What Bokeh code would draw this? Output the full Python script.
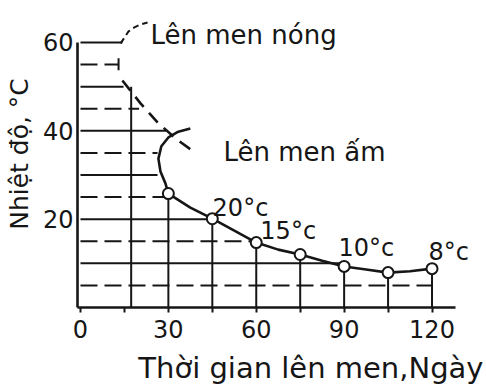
from bokeh.plotting import figure
from bokeh.models import FixedTicker, Range1d, Title
from bokeh.embed import file_html
from bokeh.resources import INLINE
from bokeh.core.properties import value

FONT = "DejaVu Sans"
INK = "#161616"

# Measured points of the warm fermentation (days, °C)
days = [30, 45, 60, 75, 90, 105, 120]
temps = [25.8, 20.1, 14.7, 12.0, 9.3, 7.9, 8.8]

# Warm fermentation curve: the hook coming down from ~40 °C, then through the points
warm_x = [37.5, 33.4, 30.0, 27.6, 26.6, 27.3, 29.0, 30, 37.5, 45, 52.5, 60, 67.5,
          75, 82.5, 90, 97.5, 105, 112.5, 120]
warm_y = [40.5, 39.8, 38.5, 36.5, 33.7, 30.8, 28.1, 25.8, 22.6, 20.1, 17.4, 14.7, 13.1,
          12.0, 10.6, 9.3, 8.6, 7.9, 8.2, 8.8]

# Hot fermentation: dashed decline from 50 °C
hot_x = [14.3, 20.5, 26.3, 32.4, 38.2]
hot_y = [51.4, 46.2, 41.9, 38.3, 35.5]

# Leader from the 60 °C level up to the "Lên men nóng" caption
lead_x = [13.7, 15.0, 16.4, 18.4, 20.5, 22.9]
lead_y = [59.8, 61.1, 62.5, 63.4, 64.1, 64.5]

# Horizontal temperature levels and how far (in days) each one runs
levels = [60, 55, 50, 45, 40, 35, 30, 25, 20, 15, 10, 5]
level_ends = [14.3, 13.0, 14.7, 20.0, 29.7, 26.3, 26.3, 30, 45, 60, 90, 120]

# Boundary of the hot fermentation period
hot_end_day = 17.3
hot_end_top = 50
bracket_day = 13.0
bracket_lo, bracket_hi = 53.7, 56.4

x_ticks = [0, 30, 60, 90, 120]
x_minor = [15, 45, 75, 105]
y_ticks = [20, 40, 60]

temp_labels = ["20°c", "15°c", "10°c", "8°c"]
temp_label_x = [45.1, 61.4, 88.1, 118.8]
temp_label_y = [22.6, 17.4, 13.4, 12.5]

p = figure(width=486, height=392, output_backend="svg", toolbar_location=None,
           min_border_left=77, min_border_right=0, min_border_top=0, min_border_bottom=85,
           x_range=Range1d(-1.02, 138.6), y_range=Range1d(0, 69.5))
p.grid.visible = False
p.outline_line_color = None
p.background_fill_color = "white"
p.border_fill_color = "white"

# Axes
for ax in (p.xaxis, p.yaxis):
    ax.axis_line_width = 2.6
    ax.axis_line_color = INK
    ax.major_tick_line_color = INK
    ax.minor_tick_line_color = INK
    ax.major_tick_line_width = 2
    ax.minor_tick_line_width = 2
    ax.major_label_text_font = FONT
    ax.major_label_text_font_size = "24px"
    ax.major_label_text_color = INK
    ax.axis_label_text_font = FONT
    ax.axis_label_text_font_style = "normal"
    ax.axis_label_text_color = INK

p.xaxis.ticker = FixedTicker(ticks=x_ticks, minor_ticks=x_minor)
p.xaxis.major_tick_in = 0
p.xaxis.major_tick_out = 5
p.xaxis.minor_tick_in = 0
p.xaxis.minor_tick_out = 5
p.xaxis.major_label_standoff = 7
p.xaxis.bounds = (-1.02, 128)

p.yaxis.ticker = FixedTicker(ticks=y_ticks, minor_ticks=[])
p.yaxis.major_tick_in = 0
p.yaxis.major_tick_out = 0
p.yaxis.major_label_standoff = 4
p.yaxis.bounds = (0, 60)
p.yaxis.axis_label = "Nhiệt độ, °C"
p.yaxis.axis_label_text_font_size = "25px"
p.yaxis.axis_label_standoff = 6

# Temperature levels: solid every 10 °C, dashed in between
for lv, end in zip(levels, level_ends):
    dash = "solid" if lv % 10 == 0 else "17 7"
    p.line([0, end], [lv, lv], line_color=INK, line_width=2, line_dash=dash)

# Vertical drops from each point, and the end of the hot period
p.segment(x0=days, y0=[0] * len(days), x1=days, y1=temps, line_color=INK, line_width=2)
p.segment(x0=[hot_end_day], y0=[0], x1=[hot_end_day], y1=[hot_end_top],
          line_color=INK, line_width=2)
p.segment(x0=[bracket_day], y0=[bracket_lo], x1=[bracket_day], y1=[bracket_hi],
          line_color=INK, line_width=2)

# Curves
p.line(hot_x, hot_y, line_color=INK, line_width=2.6, line_dash="13 8")
p.line(lead_x, lead_y, line_color=INK, line_width=2, line_dash="6 4")
p.line(warm_x, warm_y, line_color=INK, line_width=2.6)
p.scatter(days, temps, size=11, fill_color="white", line_color=INK, line_width=2)

# Captions
p.text(x=[23.9], y=[61.6], text=["Lên men nóng"], text_font=value(FONT),
       text_font_size="26px", text_color=INK, text_baseline="alphabetic")
p.text(x=[48.8], y=[35.1], text=["Lên men ấm"], text_font=value(FONT),
       text_font_size="26px", text_color=INK, text_baseline="alphabetic")
p.text(x=temp_label_x, y=temp_label_y, text=temp_labels, text_font=value(FONT),
       text_font_size="24px", text_color=INK, text_baseline="alphabetic")

# Time axis caption, set flush right under the axis
p.add_layout(Title(text="Thời gian lên men,Ngày", align="right", text_font=FONT,
                   text_font_size="29px", text_font_style="normal", text_color=INK,
                   standoff=16, offset=3), "below")

open("out.html", "w").write(file_html(p, INLINE))
